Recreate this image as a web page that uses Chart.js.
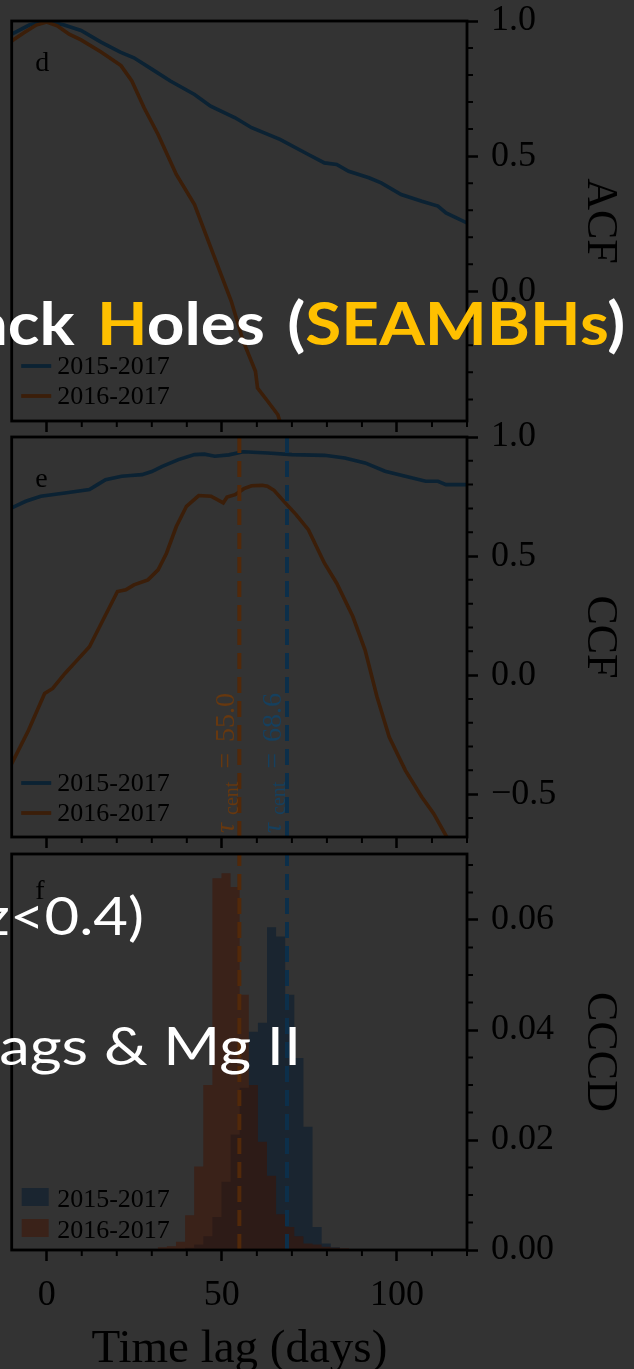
<!DOCTYPE html>
<html>
<head>
<meta charset="utf-8">
<script src="https://cdn.jsdelivr.net/npm/chart.js@4.4.1/dist/chart.umd.min.js"></script>
<style>
  html, body { margin: 0; padding: 0; }
  body { width: 634px; height: 1369px; background: #333333; position: relative; overflow: hidden; }
  canvas { position: absolute; left: 0; }
  #acf  { top: 0; }
  #ccf  { top: 395px; }
  #cccd { top: 815px; }
  .slide { position: absolute; white-space: nowrap; color: #ffffff; font-family: Lato, 'Noto Sans', sans-serif; line-height: 1; transform-origin: right center; }
  .hl { color: #FFC000; }
</style>
</head>
<body>
<canvas id="acf" width="634" height="440"></canvas>
<canvas id="ccf" width="634" height="475"></canvas>
<canvas id="cccd" width="634" height="585"></canvas>

<div class="slide" style="right:9px; top:292px; font-size:60px; font-weight:700; word-spacing:6px; transform:scaleX(1.095);"><span class="hl">B</span>lack <span class="hl">H</span>oles (<span class="hl">SEAMBHs</span>)</div>
<div class="slide" style="right:490px; top:889px; font-size:52px; transform:scaleX(1.15);">(z&lt;0.4)</div>
<div class="slide" style="right:333px; top:1019px; font-size:52px; transform:scaleX(1.18);">lags &amp; Mg II</div>

<script>
// ---------------- data ----------------
const seriesLabels = ['2015-2017', '2016-2017'];
const tauCent = [68.6, 55.0];               // centroid lags (days)

// auto-correlation functions
const acfLag1517 = [-10, -5, 0, 5, 9.8, 15.5, 21, 24.9, 30, 35.3, 42.2, 46.8, 53.8, 58.5, 66.6, 74.7, 79.3, 82.8, 86.2, 92.0, 95.5, 101.2, 107.1, 111.7, 114.0, 120];
const acf1517    = [0.951, 0.985, 1.0, 0.985, 0.965, 0.922, 0.885, 0.864, 0.822, 0.778, 0.728, 0.685, 0.642, 0.605, 0.562, 0.506, 0.475, 0.469, 0.444, 0.420, 0.401, 0.358, 0.333, 0.315, 0.290, 0.253];
const acfLag1617 = [-10, -6.4, -3, 0, 3, 6.4, 9.8, 15.4, 21.2, 24.3, 27.8, 31.8, 37.0, 42.2, 46.9, 52.7, 56.1, 59.6, 60.2, 63.1, 66.0, 67.5];
const acf1617    = [0.926, 0.957, 0.985, 0.996, 0.982, 0.951, 0.930, 0.886, 0.835, 0.778, 0.679, 0.580, 0.432, 0.321, 0.160, -0.037, -0.185, -0.296, -0.358, -0.407, -0.457, -0.52];

// cross-correlation functions
const ccfLag1517 = [-10, -6, -1.7, 5.2, 12.2, 14.5, 16.8, 21.4, 24, 27.2, 30, 33, 37.6, 42.2, 45, 48, 52, 56.1, 63.1, 70, 79.3, 85.1, 90.9, 96.6, 102.4, 108.2, 111.7, 114, 120];
const ccf1517    = [0.702, 0.730, 0.751, 0.765, 0.779, 0.800, 0.821, 0.835, 0.838, 0.842, 0.855, 0.877, 0.905, 0.926, 0.928, 0.919, 0.925, 0.938, 0.933, 0.926, 0.923, 0.912, 0.891, 0.856, 0.835, 0.814, 0.814, 0.800, 0.800];
const ccfLag1617 = [-10, -5.2, -0.6, 1.7, 5.2, 8.7, 12.2, 15.6, 20.2, 22.6, 24.9, 28.9, 31.8, 34.2, 37.0, 39.9, 43.4, 46.9, 50.4, 51.5, 53.8, 56.3, 58.5, 61.5, 63.0, 64.9, 68.3, 71.2, 74.7, 79.3, 82.8, 87.4, 90.9, 94.3, 97.8, 102.4, 107.1, 110.5, 114.0, 116];
const ccf1617    = [-0.372, -0.232, -0.077, -0.056, 0.007, 0.063, 0.119, 0.218, 0.351, 0.358, 0.379, 0.400, 0.442, 0.512, 0.624, 0.709, 0.754, 0.751, 0.723, 0.748, 0.758, 0.783, 0.795, 0.797, 0.793, 0.776, 0.720, 0.674, 0.611, 0.470, 0.386, 0.246, 0.105, -0.091, -0.260, -0.400, -0.512, -0.582, -0.674, -0.730];

// cross-correlation centroid distributions (density per bin)
const cccdBinEdges = [31.7, 34.3, 36.9, 39.5, 42.1, 44.7, 47.3, 49.9, 52.5, 55.1, 57.7, 60.3, 62.9, 65.5, 68.1, 70.7, 73.3, 75.9, 78.5, 81.1, 83.7, 86.3, 88.9, 91.5, 94.1];
const cccd1517 = [0, 0, 0, 0.0002, 0.0004, 0.0010, 0.0025, 0.0060, 0.0124, 0.0210, 0.0295, 0.0397, 0.0413, 0.0587, 0.0570, 0.0464, 0.0349, 0.0224, 0.0042, 0.0012, 0.0005, 0.0002, 0, 0];
const cccd1617 = [0.0003, 0.0005, 0.0007, 0.0015, 0.0063, 0.0152, 0.0300, 0.0676, 0.0685, 0.0660, 0.0464, 0.0300, 0.0197, 0.0135, 0.0065, 0.0042, 0.0025, 0.0012, 0.0010, 0.0006, 0.0004, 0.0003, 0.0002, 0.0002];

// ticks
const lagTicks  = [0, 50, 100];
const lagMinor  = [10, 20, 30, 40, 60, 70, 80, 90, 110, 120];
const acfTicks  = [0, 0.5, 1.0];
const acfMinor  = [-0.4, -0.3, -0.2, -0.1, 0.1, 0.2, 0.3, 0.4, 0.6, 0.7, 0.8, 0.9];
const ccfTicks  = [-0.5, 0, 0.5, 1.0];
const ccfMinor  = [-0.6, -0.4, -0.3, -0.2, -0.1, 0.1, 0.2, 0.3, 0.4, 0.6, 0.7, 0.8, 0.9];
const cccdTicks = [0, 0.02, 0.04, 0.06];
const cccdMinor = [0.005, 0.01, 0.015, 0.025, 0.03, 0.035, 0.045, 0.05, 0.055, 0.065, 0.07];

// ---------------- styling ----------------
const serif = "'Liberation Serif', 'DejaVu Serif', serif";
const ink = '#000000';
const blue = '#0b2233', orange = '#3b1e09';
const blueDash = '#0c2f4a', orangeDash = '#52290a';
const blueText = '#16405e', orangeText = '#67380f';
const blueFill = 'rgba(1, 23, 45, 0.5)', orangeFill = 'rgba(66, 17, 0, 0.5)';

Chart.defaults.font.family = serif;
Chart.defaults.color = ink;

const pts = (xs, ys) => xs.map((x, i) => ({ x, y: ys[i] }));
const fmt = (v, d) => v.toFixed(d).replace('-', '\u2212');
const noPad = s => { s.paddingTop = 0; s.paddingBottom = 0; s.paddingLeft = 0; s.paddingRight = 0; };

// frame (all four spines) plus minor tick marks
const framePlugin = {
  id: 'frame',
  afterDraw(chart, args, o) {
    const { ctx, chartArea: a, scales: { x, y } } = chart;
    ctx.save();
    ctx.strokeStyle = ink;
    ctx.lineWidth = 2;
    ctx.beginPath();
    (o.xMinor || []).forEach(v => { const p = x.getPixelForValue(v); ctx.moveTo(p, a.bottom); ctx.lineTo(p, a.bottom + 6); });
    (o.yMinor || []).forEach(v => { const p = y.getPixelForValue(v); ctx.moveTo(a.right, p); ctx.lineTo(a.right + 6, p); });
    ctx.stroke();
    ctx.lineWidth = 2.8;
    ctx.strokeRect(a.left, a.top, a.width, a.height);
    ctx.restore();
  }
};

// key in the lower-left corner of the panel
const keyPlugin = {
  id: 'key',
  afterDatasetsDraw(chart, args, o) {
    const { ctx, chartArea: a } = chart;
    const items = chart.data.datasets.filter(d => d.inKey);
    ctx.save();
    ctx.font = `26px ${serif}`;
    ctx.textBaseline = 'middle';
    ctx.textAlign = 'left';
    items.forEach((d, i) => {
      const yy = a.bottom - o.bottomGap - (items.length - 1 - i) * o.rowGap;
      if (o.kind === 'box') {
        ctx.fillStyle = d.backgroundColor;
        ctx.fillRect(a.left + 10, yy - 9, 27, 18);
        ctx.fillStyle = ink;
        ctx.fillText(d.label, a.left + 45.5, yy + 3);
      } else {
        ctx.strokeStyle = d.borderColor;
        ctx.lineWidth = 3.8;
        ctx.beginPath();
        ctx.moveTo(a.left + 9.5, yy);
        ctx.lineTo(a.left + 39.5, yy);
        ctx.stroke();
        ctx.fillStyle = ink;
        ctx.fillText(d.label, a.left + 45.5, yy + 1.5);
      }
    });
    ctx.restore();
  }
};

// panel letter
const letterPlugin = {
  id: 'letter',
  afterDatasetsDraw(chart, args, o) {
    const { ctx, chartArea: a } = chart;
    ctx.save();
    ctx.font = `28px ${serif}`;
    ctx.fillStyle = ink;
    ctx.textBaseline = 'alphabetic';
    ctx.fillText(o.text, a.left + 23.5, a.top + o.drop);
    ctx.restore();
  }
};

// rotated centroid annotations next to the dashed lines
const tauPlugin = {
  id: 'tau',
  afterDatasetsDraw(chart, args, o) {
    if (!o.show) return;
    const { ctx, chartArea: a, scales: { x } } = chart;
    chart.data.datasets.filter(d => d.tau !== undefined).forEach(d => {
      const px = x.getPixelForValue(d.tau);
      ctx.save();
      ctx.translate(px - 5.5, a.bottom - 4);
      ctx.rotate(-Math.PI / 2);
      ctx.fillStyle = d.textColor;
      ctx.textBaseline = 'alphabetic';
      ctx.textAlign = 'left';
      ctx.font = `italic 28px ${serif}`;
      ctx.fillText('\u03C4', 0, 0);
      let cx = 18;
      ctx.font = `20px ${serif}`;
      ctx.fillText('cent', cx, 4);
      cx += ctx.measureText('cent').width + 13;
      ctx.font = `28px ${serif}`;
      ctx.fillText('=', cx, 0);
      cx += ctx.measureText('=').width + 11;
      ctx.fillText(d.tau.toFixed(1), cx, 0);
      ctx.restore();
    });
  }
};

function lagAxis(height, labelled) {
  return {
    type: 'linear', min: -10, max: 120, offset: false,
    afterBuildTicks: s => { s.ticks = lagTicks.map(v => ({ value: v })); },
    afterFit: s => { s.height = height; noPad(s); },
    grid: { drawOnChartArea: false, drawTicks: true, tickLength: 11, tickWidth: 2.5, tickColor: ink, offset: false },
    border: { display: false },
    ticks: { display: labelled, color: ink, font: { family: serif, size: 36 }, padding: 13, maxRotation: 0, callback: v => String(v) },
    title: { display: labelled, text: 'Time lag (days)', color: ink, font: { family: serif, size: 47, lineHeight: 1.2 }, padding: 0 }
  };
}

function valueAxis(ticks, min, max, decimals, title) {
  return {
    type: 'linear', position: 'right', min, max,
    afterBuildTicks: s => { s.ticks = ticks.map(v => ({ value: v })); },
    afterFit: s => { s.width = 167; noPad(s); },
    grid: { drawOnChartArea: false, drawTicks: true, tickLength: 11, tickWidth: 2.5, tickColor: ink },
    border: { display: false },
    ticks: { color: ink, font: { family: serif, size: 36 }, padding: 13, callback: v => fmt(v, decimals) },
    title: { display: true, text: title, color: ink, font: { family: serif, size: 44, lineHeight: 1 }, padding: { top: 12, bottom: 0 } }
  };
}

const curve = (label, xs, ys, color, order) => ({
  label, data: pts(xs, ys), borderColor: color, backgroundColor: color,
  borderWidth: 3.6, pointRadius: 0, fill: false, inKey: true, order
});

const dashed = (tau, color, textColor, yMin, yMax) => ({
  data: [{ x: tau, y: yMin }, { x: tau, y: yMax }], tau, textColor,
  borderColor: color, borderWidth: 4, borderDash: [16, 8], pointRadius: 0, fill: false, order: 0
});

const common = (padTop, padBottom) => ({
  responsive: false, animation: false, events: [],
  layout: { padding: { left: 11.7, right: 0, top: padTop, bottom: padBottom } },
  elements: { point: { radius: 0 }, line: { tension: 0 } }
});

// ---------------- panel d: ACF ----------------
new Chart(document.getElementById('acf'), {
  type: 'line',
  data: { datasets: [
    curve(seriesLabels[0], acfLag1517, acf1517, blue, 2),
    curve(seriesLabels[1], acfLag1617, acf1617, orange, 1)
  ] },
  options: Object.assign(common(21, 0), {
    scales: { x: lagAxis(19, false), y: valueAxis(acfTicks, -0.48, 1.0, 1, 'ACF') },
    plugins: {
      legend: { display: false }, tooltip: { enabled: false },
      frame: { xMinor: lagMinor, yMinor: acfMinor },
      key: { kind: 'line', bottomGap: 25, rowGap: 30 },
      letter: { text: 'd', drop: 50 },
      tau: { show: false }
    }
  }),
  plugins: [framePlugin, keyPlugin, letterPlugin, tauPlugin]
});

// ---------------- panel e: CCF ----------------
new Chart(document.getElementById('ccf'), {
  type: 'line',
  data: { datasets: [
    curve(seriesLabels[0], ccfLag1517, ccf1517, blue, 2),
    curve(seriesLabels[1], ccfLag1617, ccf1617, orange, 1),
    dashed(tauCent[0], blueDash, blueText, -0.68, 1.0),
    dashed(tauCent[1], orangeDash, orangeText, -0.68, 1.0)
  ] },
  options: Object.assign(common(42, 0), {
    scales: { x: lagAxis(33, false), y: valueAxis(ccfTicks, -0.68, 1.0, 1, 'CCF') },
    plugins: {
      legend: { display: false }, tooltip: { enabled: false },
      frame: { xMinor: lagMinor, yMinor: ccfMinor },
      key: { kind: 'line', bottomGap: 24, rowGap: 30 },
      letter: { text: 'e', drop: 50 },
      tau: { show: true }
    }
  }),
  plugins: [framePlugin, keyPlugin, letterPlugin, tauPlugin]
});

// ---------------- panel f: CCCD ----------------
// each bin is held flat from its left edge to the next edge and filled down to zero
const histo = (label, vals, fillColor, order) => ({
  label,
  data: cccdBinEdges.map((x, i) => ({ x, y: vals[Math.min(i, vals.length - 1)] })),
  stepped: 'after',
  borderWidth: 0, borderColor: 'rgba(0,0,0,0)', backgroundColor: fillColor,
  fill: 'origin', pointRadius: 0, inKey: true, order
});

new Chart(document.getElementById('cccd'), {
  type: 'line',
  data: { datasets: [
    histo(seriesLabels[0], cccd1517, blueFill, 2),
    histo(seriesLabels[1], cccd1617, orangeFill, 1),
    dashed(tauCent[0], blueDash, blueText, 0, 0.072),
    dashed(tauCent[1], orangeDash, orangeText, 0, 0.072)
  ] },
  options: Object.assign(common(39, 22), {
    scales: { x: lagAxis(128, true), y: valueAxis(cccdTicks, 0, 0.072, 2, 'CCCD') },
    plugins: {
      legend: { display: false }, tooltip: { enabled: false }, filler: { propagate: false },
      frame: { xMinor: lagMinor, yMinor: cccdMinor },
      key: { kind: 'box', bottomGap: 22, rowGap: 31 },
      letter: { text: 'f', drop: 45 },
      tau: { show: false }
    }
  }),
  plugins: [framePlugin, keyPlugin, letterPlugin, tauPlugin]
});
</script>
</body>
</html>
